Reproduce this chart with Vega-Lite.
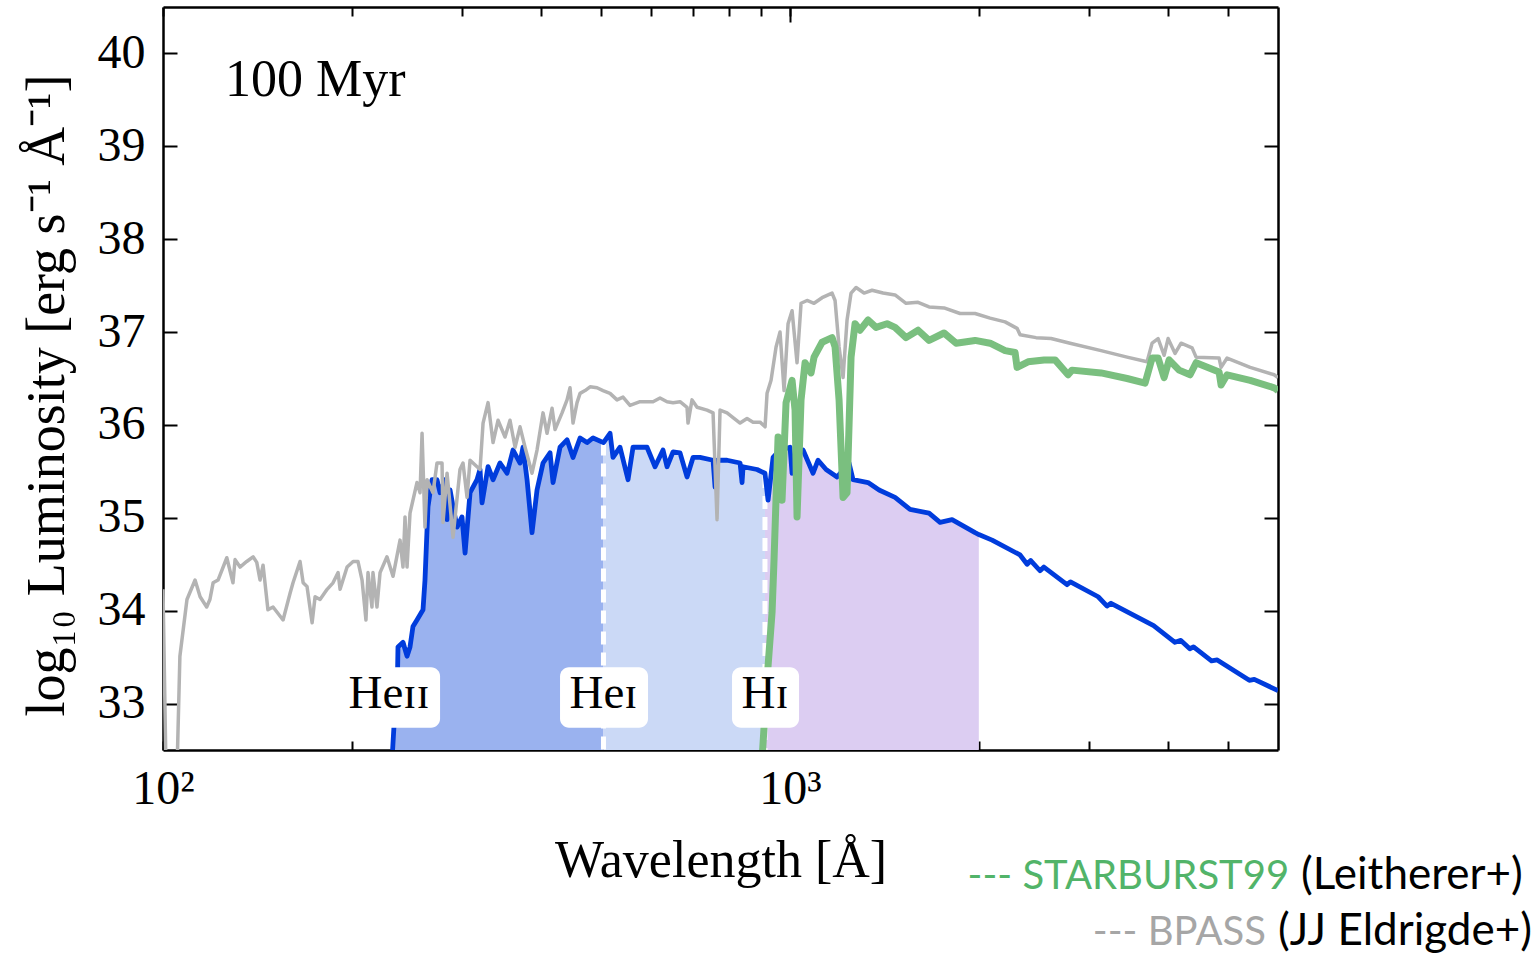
{
  "$schema": "https://vega.github.io/schema/vega-lite/v6.json",
  "width": 1115,
  "height": 743,
  "autosize": {"type": "none"},
  "padding": {"left": 163, "top": 7, "right": 261, "bottom": 204},
  "background": "white",
  "config": {"view": {"stroke": null}, "font": "Liberation Serif"},
  "datasets": {
    "bpass": [
      {"lam":100,"L":34.23},{"lam":101.1,"L":32.3},{"lam":105.3,"L":32.3},{"lam":106.4,"L":33.51},{"lam":109.2,"L":34.12},{"lam":112.5,"L":34.33},{"lam":114.6,"L":34.15},{"lam":117.4,"L":34.04},{"lam":118.8,"L":34.12},{"lam":120.2,"L":34.30},{"lam":122.4,"L":34.33},{"lam":126.4,"L":34.57},{"lam":129.3,"L":34.30},{"lam":130.3,"L":34.55},{"lam":132.7,"L":34.47},{"lam":136.0,"L":34.53},{"lam":139.2,"L":34.58},{"lam":141.1,"L":34.52},{"lam":142.8,"L":34.33},{"lam":144.4,"L":34.49},{"lam":147.0,"L":34.01},{"lam":149.8,"L":34.04},{"lam":155.4,"L":33.90},{"lam":159.5,"L":34.19},{"lam":161.2,"L":34.30},{"lam":165.4,"L":34.53},{"lam":167.3,"L":34.30},{"lam":169.7,"L":34.26},{"lam":172.9,"L":33.87},{"lam":174.8,"L":34.15},{"lam":178.0,"L":34.12},{"lam":182.7,"L":34.23},{"lam":186.7,"L":34.30},{"lam":190.2,"L":34.41},{"lam":191.6,"L":34.23},{"lam":196.6,"L":34.47},{"lam":201.0,"L":34.53},{"lam":204.6,"L":34.53},{"lam":207.7,"L":34.33},{"lam":210.7,"L":33.90},{"lam":212.3,"L":34.41},{"lam":215.4,"L":34.04},{"lam":216.2,"L":34.41},{"lam":219.4,"L":34.04},{"lam":221.9,"L":34.41},{"lam":227.6,"L":34.58},{"lam":232.7,"L":34.37},{"lam":238.8,"L":34.76},{"lam":241.4,"L":34.47},{"lam":243.2,"L":35.01},{"lam":245.0,"L":34.47},{"lam":247.7,"L":35.05},{"lam":254.1,"L":35.38},{"lam":257.0,"L":35.27},{"lam":258.9,"L":35.91},{"lam":261.7,"L":34.90},{"lam":263.7,"L":35.41},{"lam":269.5,"L":35.27},{"lam":273.5,"L":35.59},{"lam":278.6,"L":35.59},{"lam":279.6,"L":34.95},{"lam":283.8,"L":35.48},{"lam":290.1,"L":34.79},{"lam":297.6,"L":35.52},{"lam":300.9,"L":35.59},{"lam":305.4,"L":35.22},{"lam":308.8,"L":35.62},{"lam":320.3,"L":35.52},{"lam":323.9,"L":36.02},{"lam":329.9,"L":36.24},{"lam":336.0,"L":35.81},{"lam":342.2,"L":36.05},{"lam":351.1,"L":35.87},{"lam":357.6,"L":36.05},{"lam":364.3,"L":35.76},{"lam":371.0,"L":35.98},{"lam":377.9,"L":35.76},{"lam":387.7,"L":35.48},{"lam":394.9,"L":35.73},{"lam":403.7,"L":36.13},{"lam":409.7,"L":35.91},{"lam":417.3,"L":36.18},{"lam":421.9,"L":35.95},{"lam":432.9,"L":36.13},{"lam":440.9,"L":36.27},{"lam":445.8,"L":36.40},{"lam":450.7,"L":36.02},{"lam":457.4,"L":36.24},{"lam":462.5,"L":36.34},{"lam":471.1,"L":36.37},{"lam":479.8,"L":36.41},{"lam":492.3,"L":36.40},{"lam":503.2,"L":36.37},{"lam":516.3,"L":36.34},{"lam":529.7,"L":36.27},{"lam":541.5,"L":36.30},{"lam":555.6,"L":36.21},{"lam":576.4,"L":36.25},{"lam":604.6,"L":36.25},{"lam":620.3,"L":36.29},{"lam":636.5,"L":36.25},{"lam":650.7,"L":36.24},{"lam":667.6,"L":36.25},{"lam":685.0,"L":36.19},{"lam":687.5,"L":36.02},{"lam":697.7,"L":36.27},{"lam":710.7,"L":36.19},{"lam":737.3,"L":36.16},{"lam":753.7,"L":36.13},{"lam":764.8,"L":34.98},{"lam":773.3,"L":36.16},{"lam":793.5,"L":36.13},{"lam":811.1,"L":36.08},{"lam":832.3,"L":36.02},{"lam":853.9,"L":36.07},{"lam":873.0,"L":36.03},{"lam":895.7,"L":36.03},{"lam":912.3,"L":35.98},{"lam":919.0,"L":36.34},{"lam":932.6,"L":36.48},{"lam":949.9,"L":36.84},{"lam":963.9,"L":37.00},{"lam":978.2,"L":36.37},{"lam":992.7,"L":37.09},{"lam":1007.4,"L":37.23},{"lam":1026.0,"L":36.67},{"lam":1041.2,"L":37.31},{"lam":1064.4,"L":37.34},{"lam":1092.1,"L":37.31},{"lam":1124.8,"L":37.37},{"lam":1166.8,"L":37.42},{"lam":1179.7,"L":37.34},{"lam":1197.2,"L":36.84},{"lam":1214.9,"L":36.51},{"lam":1232.8,"L":37.13},{"lam":1251.1,"L":37.42},{"lam":1274.3,"L":37.48},{"lam":1312.2,"L":37.42},{"lam":1351.4,"L":37.45},{"lam":1407.1,"L":37.42},{"lam":1470.4,"L":37.40},{"lam":1531.0,"L":37.31},{"lam":1600.0,"L":37.32},{"lam":1666.0,"L":37.27},{"lam":1760.3,"L":37.26},{"lam":1866.8,"L":37.20},{"lam":1972.7,"L":37.20},{"lam":2084.5,"L":37.15},{"lam":2202.4,"L":37.11},{"lam":2301.6,"L":37.04},{"lam":2327.1,"L":36.97},{"lam":2467.9,"L":36.94},{"lam":2607.7,"L":36.93},{"lam":2796.0,"L":36.88},{"lam":3133.4,"L":36.80},{"lam":3447.3,"L":36.73},{"lam":3710.0,"L":36.68},{"lam":3778.8,"L":36.88},{"lam":3863.0,"L":36.93},{"lam":3949.1,"L":36.75},{"lam":4007.5,"L":36.93},{"lam":4111.8,"L":36.77},{"lam":4203.4,"L":36.88},{"lam":4376.8,"L":36.83},{"lam":4441.6,"L":36.73},{"lam":4832.9,"L":36.72},{"lam":4868.5,"L":36.62},{"lam":4977.0,"L":36.72},{"lam":5417.3,"L":36.62},{"lam":5915.9,"L":36.54},{"lam":6000,"L":36.51}
    ],
    "blue": [
      {"lam":231.9,"L":32.4},{"lam":233.6,"L":32.77},{"lam":236.2,"L":33.04},{"lam":237.0,"L":33.61},{"lam":241.4,"L":33.66},{"lam":245.0,"L":33.51},{"lam":247.7,"L":33.61},{"lam":250.4,"L":33.83},{"lam":254.1,"L":33.90},{"lam":259.8,"L":34.01},{"lam":261.7,"L":34.33},{"lam":264.6,"L":35.12},{"lam":268.5,"L":35.41},{"lam":273.5,"L":35.41},{"lam":276.6,"L":35.27},{"lam":281.7,"L":35.41},{"lam":283.8,"L":34.98},{"lam":286.9,"L":35.30},{"lam":290.1,"L":35.12},{"lam":294.4,"L":34.90},{"lam":299.8,"L":35.01},{"lam":303.2,"L":34.62},{"lam":308.8,"L":35.27},{"lam":316.8,"L":35.41},{"lam":320.3,"L":35.52},{"lam":322.7,"L":35.16},{"lam":329.9,"L":35.55},{"lam":336.0,"L":35.41},{"lam":344.7,"L":35.59},{"lam":353.7,"L":35.48},{"lam":361.6,"L":35.73},{"lam":371.0,"L":35.59},{"lam":375.1,"L":35.76},{"lam":380.7,"L":35.41},{"lam":387.7,"L":34.84},{"lam":394.9,"L":35.30},{"lam":403.7,"L":35.59},{"lam":414.2,"L":35.70},{"lam":418.8,"L":35.38},{"lam":429.7,"L":35.76},{"lam":440.9,"L":35.84},{"lam":450.7,"L":35.65},{"lam":462.5,"L":35.86},{"lam":474.5,"L":35.81},{"lam":485.1,"L":35.86},{"lam":504,"L":35.81},{"lam":516.3,"L":35.91},{"lam":522.0,"L":35.65},{"lam":535.6,"L":35.76},{"lam":551.6,"L":35.41},{"lam":561.8,"L":35.76},{"lam":591.4,"L":35.76},{"lam":609.1,"L":35.55},{"lam":627.2,"L":35.73},{"lam":636.5,"L":35.55},{"lam":650.7,"L":35.71},{"lam":667.6,"L":35.70},{"lam":685.0,"L":35.44},{"lam":700.3,"L":35.65},{"lam":718.5,"L":35.65},{"lam":753.7,"L":35.62},{"lam":759.3,"L":35.33},{"lam":764.8,"L":35.62},{"lam":793.5,"L":35.62},{"lam":832.3,"L":35.59},{"lam":838.4,"L":35.38},{"lam":841.5,"L":35.55},{"lam":885.9,"L":35.52},{"lam":912,"L":35.48},{"lam":922.4,"L":35.19},{"lam":939.5,"L":35.65},{"lam":963.9,"L":35.73},{"lam":1000,"L":35.76},{"lam":1007.4,"L":35.48},{"lam":1026.0,"L":35.71},{"lam":1048.9,"L":35.73},{"lam":1088.1,"L":35.48},{"lam":1108.3,"L":35.62},{"lam":1141.4,"L":35.52},{"lam":1188.4,"L":35.44},{"lam":1241.9,"L":35.59},{"lam":1260.3,"L":35.41},{"lam":1331.7,"L":35.38},{"lam":1386.6,"L":35.30},{"lam":1470.4,"L":35.22},{"lam":1553.7,"L":35.09},{"lam":1666.0,"L":35.05},{"lam":1734.7,"L":34.95},{"lam":1812.8,"L":34.98},{"lam":1972.7,"L":34.84},{"lam":2000,"L":34.82},{"lam":2100,"L":34.76},{"lam":2327,"L":34.60},{"lam":2388,"L":34.50},{"lam":2420,"L":34.54},{"lam":2504,"L":34.43},{"lam":2540,"L":34.47},{"lam":2765,"L":34.28},{"lam":2800,"L":34.31},{"lam":3100,"L":34.15},{"lam":3203,"L":34.05},{"lam":3250,"L":34.08},{"lam":3800,"L":33.84},{"lam":4110,"L":33.66},{"lam":4200,"L":33.68},{"lam":4340,"L":33.59},{"lam":4400,"L":33.61},{"lam":4700,"L":33.46},{"lam":4800,"L":33.47},{"lam":5400,"L":33.25},{"lam":5500,"L":33.26},{"lam":6000,"L":33.14}
    ],
    "green": [
      {"lam":902.3,"L":32.4},{"lam":919.0,"L":33.26},{"lam":936.0,"L":33.98},{"lam":942.9,"L":34.55},{"lam":956.9,"L":35.87},{"lam":971.0,"L":35.19},{"lam":985.4,"L":36.24},{"lam":1007.4,"L":36.48},{"lam":1018.5,"L":36.16},{"lam":1026.0,"L":35.01},{"lam":1041.2,"L":36.27},{"lam":1056.7,"L":36.67},{"lam":1080.2,"L":36.56},{"lam":1092.1,"L":36.73},{"lam":1124.8,"L":36.89},{"lam":1166.8,"L":36.94},{"lam":1179.7,"L":36.84},{"lam":1197.2,"L":36.27},{"lam":1214.9,"L":35.22},{"lam":1232.8,"L":35.27},{"lam":1251.1,"L":36.73},{"lam":1269.6,"L":37.09},{"lam":1293.1,"L":37.02},{"lam":1331.7,"L":37.13},{"lam":1371.3,"L":37.05},{"lam":1427.9,"L":37.09},{"lam":1470.4,"L":37.05},{"lam":1531.0,"L":36.94},{"lam":1600.0,"L":37.02},{"lam":1666.0,"L":36.91},{"lam":1760.3,"L":36.99},{"lam":1839.6,"L":36.88},{"lam":1972.7,"L":36.91},{"lam":2084.5,"L":36.88},{"lam":2202.4,"L":36.80},{"lam":2284.8,"L":36.78},{"lam":2301.6,"L":36.62},{"lam":2396.4,"L":36.68},{"lam":2541.5,"L":36.70},{"lam":2646.2,"L":36.70},{"lam":2775.5,"L":36.54},{"lam":2816.6,"L":36.59},{"lam":3133.4,"L":36.56},{"lam":3447.3,"L":36.50},{"lam":3682.9,"L":36.45},{"lam":3778.8,"L":36.72},{"lam":3863.0,"L":36.72},{"lam":3949.1,"L":36.51},{"lam":4022.3,"L":36.70},{"lam":4172.7,"L":36.59},{"lam":4344.7,"L":36.54},{"lam":4441.6,"L":36.67},{"lam":4832.9,"L":36.57},{"lam":4868.5,"L":36.43},{"lam":4977.0,"L":36.54},{"lam":5417.3,"L":36.48},{"lam":5915.9,"L":36.40},{"lam":6000,"L":36.37}
    ],
    "edges": [{"lam":504,"top":35.81},{"lam":912,"top":35.46}],
    "labels": [
      {"lam":229.3,"lo":190.2,"hi":276.6,"name":"Heɪɪ"},
      {"lam":504,"lo":429.7,"hi":593.6,"name":"Heɪ"},
      {"lam":912,"lo":808.1,"hi":1033.6,"name":"Hɪ"}
    ],
    "legend": [
      {"lam":6250,"L":31.0,"txt":"--- STARBURST99","part":"sb","side":"model"},
      {"lam":6531,"L":31.0,"txt":"(Leitherer+)","part":"ref","side":"ref"},
      {"lam":5742,"L":30.4,"txt":"--- BPASS","part":"bp","side":"model"},
      {"lam":6000,"L":30.4,"txt":"(JJ Eldrigde+)","part":"ref","side":"ref"}
    ]
  },
  "layer": [
    {
      "data": {"name": "blue"},
      "transform": [{"filter": "datum.lam <= 504"}],
      "mark": {"type": "area", "color": "#9ab2ef", "clip": true},
      "encoding": {
        "x": {"field": "lam", "type": "quantitative",
          "scale": {"type": "log", "domain": [100, 6000], "nice": false},
          "axis": {"orient": "bottom", "values": [100,200,300,400,500,600,700,800,900,1000,2000,3000,4000,5000],
            "labelExpr": "datum.value == 100 ? '10²' : (datum.value == 1000 ? '10³' : '')",
            "tickSize": -9,
            "tickWidth": 2, "tickColor": "black", "domainColor": "black", "domainWidth": 2.5,
            "labelFont": "Liberation Serif", "labelFontSize": 48, "labelColor": "black", "labelPadding": 24,
            "labelBaseline": "top", "labelOverlap": false, "labelFlush": false, "labelBound": false, "grid": false,
            "title": "Wavelength [Å]", "titleFont": "Liberation Serif", "titleFontSize": 52, "titleFontWeight": "normal",
            "titleColor": "black", "titleY": 126, "titleBaseline": "alphabetic"}},
        "y": {"field": "L", "type": "quantitative",
          "scale": {"domain": [32.5, 40.5], "nice": false, "zero": false},
          "axis": {"orient": "left", "values": [33,34,35,36,37,38,39,40], "tickSize": -14, "tickWidth": 2,
            "tickColor": "black", "domainColor": "black", "domainWidth": 2.5, "labelFont": "Liberation Serif",
            "labelFontSize": 48, "labelColor": "black", "labelPadding": 32, "grid": false,
            "title": "log₁₀ Luminosity [erg s⁻¹ Å⁻¹]", "titleFont": "Liberation Serif", "titleFontSize": 54,
            "titleFontWeight": "normal", "titleColor": "black", "titleX": -116, "titleY": 388, "titleBaseline": "middle", "titleAngle": -90}},
        "y2": {"datum": 32.5}
      }
    },
    {
      "data": {"name": "blue"},
      "transform": [{"filter": "datum.lam >= 504 && datum.lam <= 912"}],
      "mark": {"type": "area", "color": "#cbd9f6", "clip": true},
      "encoding": {
        "x": {"field": "lam", "type": "quantitative",
          "axis": {"orient": "top", "values": [100,200,300,400,500,600,700,800,900,1000,2000,3000,4000,5000],
            "labels": false, "title": null, "tickSize": -9,
            "tickWidth": 2, "tickColor": "black", "domainColor": "black", "domainWidth": 2.5, "grid": false}},
        "y": {"field": "L", "type": "quantitative",
          "axis": {"orient": "right", "values": [33,34,35,36,37,38,39,40], "labels": false, "title": null,
            "tickSize": -14, "tickWidth": 2, "tickColor": "black", "domainColor": "black", "domainWidth": 2.5, "grid": false}},
        "y2": {"datum": 32.5}
      }
    },
    {
      "data": {"name": "blue"},
      "transform": [{"filter": "datum.lam >= 912 && datum.lam <= 2000"}],
      "mark": {"type": "area", "color": "#dccdf2", "clip": true},
      "encoding": {
        "x": {"field": "lam", "type": "quantitative",
          "axis": {"orient": "bottom", "values": [1000], "labels": false, "domain": false, "title": null,
            "tickSize": -15, "tickWidth": 2, "tickColor": "black", "grid": false}},
        "y": {"field": "L", "type": "quantitative", "axis": null},
        "y2": {"datum": 32.5}
      }
    },
    {
      "data": {"name": "edges"},
      "mark": {"type": "rule", "color": "white", "strokeWidth": 5, "strokeDash": [13, 8], "clip": true},
      "encoding": {
        "x": {"field": "lam", "type": "quantitative",
          "axis": {"orient": "top", "values": [1000], "labels": false, "domain": false, "title": null,
            "tickSize": -15, "tickWidth": 2, "tickColor": "black", "grid": false}},
        "y": {"field": "top", "type": "quantitative", "axis": null},
        "y2": {"datum": 32.5}
      }
    },
    {
      "data": {"name": "blue"},
      "mark": {"type": "line", "color": "#003cdc", "strokeWidth": 4.8, "strokeJoin": "round", "clip": true},
      "encoding": {
        "x": {"field": "lam", "type": "quantitative", "axis": null},
        "y": {"field": "L", "type": "quantitative", "axis": null}
      }
    },
    {
      "data": {"name": "bpass"},
      "mark": {"type": "line", "color": "#b3b3b3", "strokeWidth": 3.5, "strokeJoin": "round", "clip": true},
      "encoding": {
        "x": {"field": "lam", "type": "quantitative", "axis": null},
        "y": {"field": "L", "type": "quantitative", "axis": null}
      }
    },
    {
      "data": {"name": "green"},
      "mark": {"type": "line", "color": "#7abf7f", "strokeWidth": 7, "strokeJoin": "round", "clip": true},
      "encoding": {
        "x": {"field": "lam", "type": "quantitative", "axis": null},
        "y": {"field": "L", "type": "quantitative", "axis": null}
      }
    },
    {
      "data": {"name": "labels"},
      "mark": {"type": "rect", "color": "white", "cornerRadius": 9},
      "encoding": {
        "x": {"field": "lo", "type": "quantitative", "axis": null},
        "x2": {"field": "hi"},
        "y": {"datum": 33.39, "type": "quantitative", "axis": null},
        "y2": {"datum": 32.74}
      }
    },
    {
      "data": {"name": "labels"},
      "mark": {"type": "text", "font": "Liberation Serif", "fontSize": 47, "color": "black", "align": "center", "baseline": "alphabetic"},
      "encoding": {
        "x": {"field": "lam", "type": "quantitative", "axis": null},
        "y": {"datum": 32.957, "type": "quantitative", "axis": null},
        "text": {"field": "name"}
      }
    },
    {
      "data": {"values": [{"lam": 125.6, "L": 39.546, "txt": "100 Myr"}]},
      "mark": {"type": "text", "font": "Liberation Serif", "fontSize": 52, "color": "black", "align": "left", "baseline": "alphabetic"},
      "encoding": {
        "x": {"field": "lam", "type": "quantitative", "axis": null},
        "y": {"field": "L", "type": "quantitative", "axis": null},
        "text": {"field": "txt"}
      }
    },
    {
      "data": {"name": "legend"},
      "transform": [{"filter": "datum.side == 'model'"}],
      "mark": {"type": "text", "font": "Lato", "fontSize": 40, "align": "right", "baseline": "alphabetic"},
      "encoding": {
        "x": {"field": "lam", "type": "quantitative", "axis": null},
        "y": {"field": "L", "type": "quantitative", "axis": null},
        "text": {"field": "txt"},
        "color": {"field": "part", "type": "nominal", "legend": null,
          "scale": {"domain": ["sb", "bp", "ref"], "range": ["#52b469", "#a6a6a6", "#000000"]}}
      }
    },
    {
      "data": {"name": "legend"},
      "transform": [{"filter": "datum.side == 'ref'"}],
      "mark": {"type": "text", "font": "Lato", "fontSize": 44, "align": "left", "baseline": "alphabetic", "color": "black"},
      "encoding": {
        "x": {"field": "lam", "type": "quantitative", "axis": null},
        "y": {"field": "L", "type": "quantitative", "axis": null},
        "text": {"field": "txt"}
      }
    }
  ],
  "resolve": {"axis": {"x": "independent", "y": "independent"}}
}
